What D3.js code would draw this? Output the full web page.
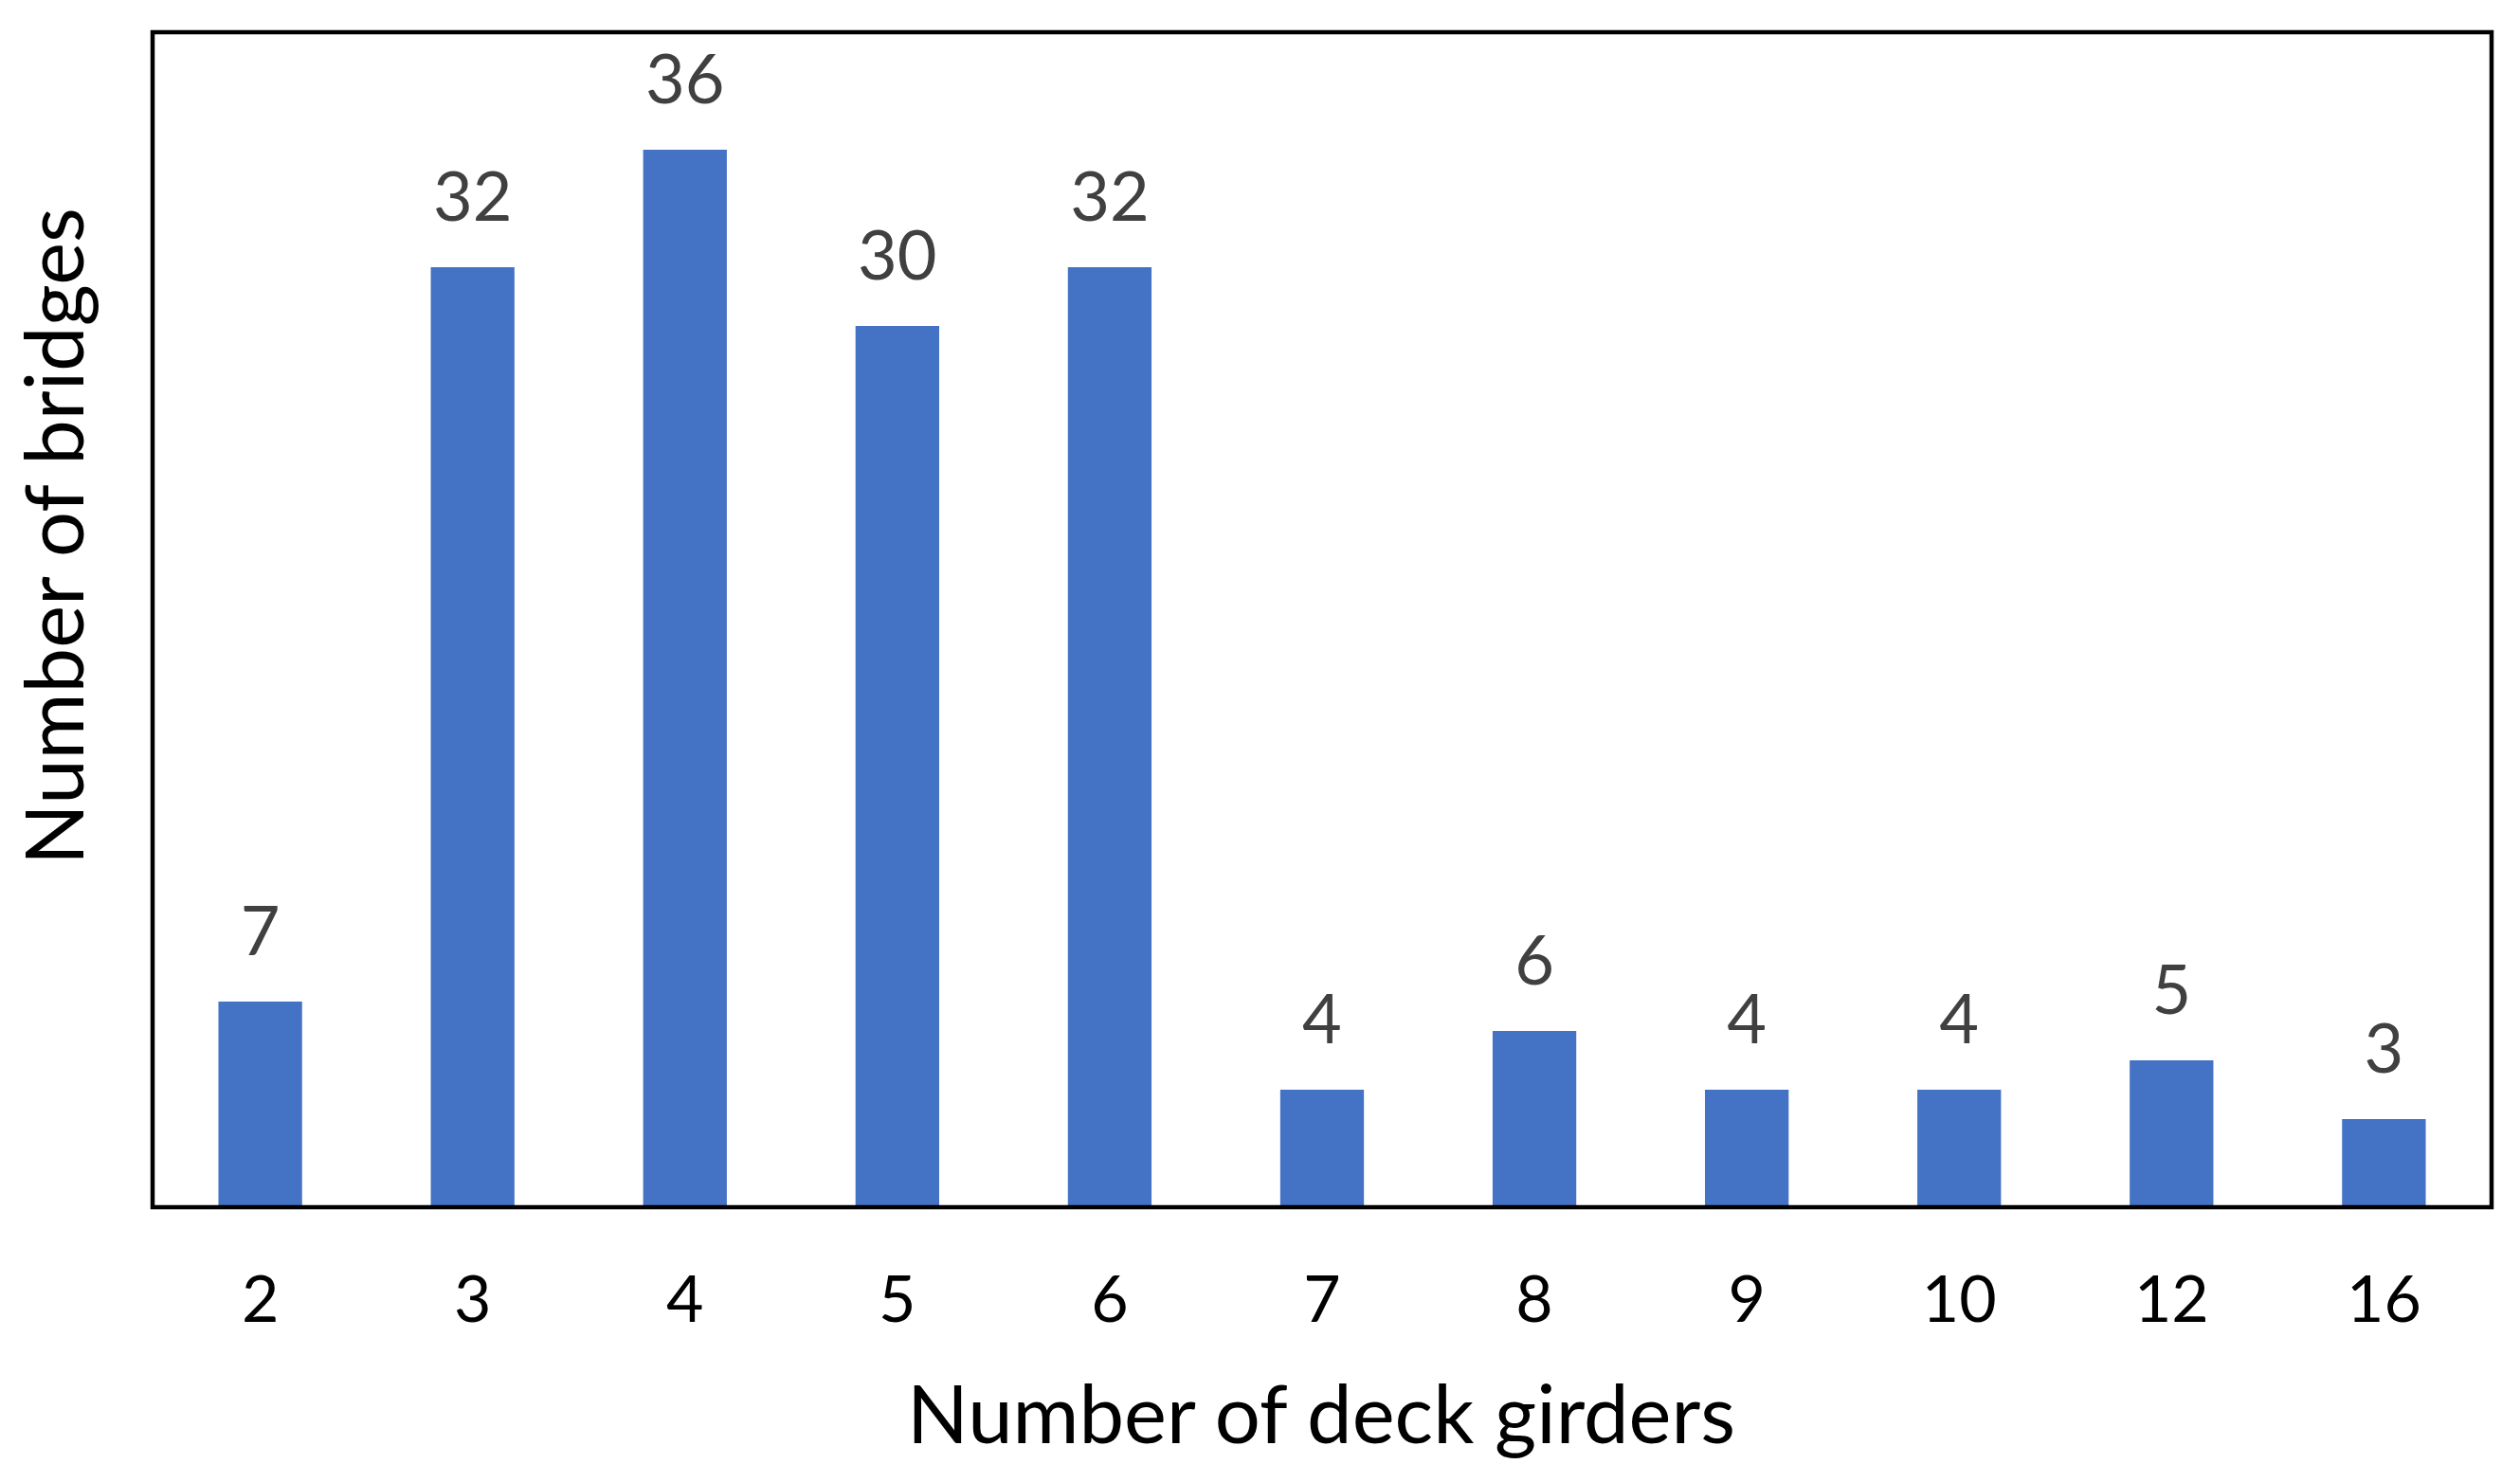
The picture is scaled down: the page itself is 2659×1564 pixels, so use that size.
<!DOCTYPE html>
<html>
<head>
<meta charset="utf-8">
<script src="https://cdn.jsdelivr.net/npm/d3@7"></script>
<style>
  body { margin: 0; background: #fff; }
  text { font-family: Lato, "Open Sans", sans-serif; }
</style>
</head>
<body>
<svg id="chart" width="2659" height="1564"></svg>
<script>
// Girder counts and how many bridges have each one.
var girders = ["2", "3", "4", "5", "6", "7", "8", "9", "10", "12", "16"];
var bridges = [7, 32, 36, 30, 32, 4, 6, 4, 4, 5, 3];
var yDomain = [0, 40];

var margin = { top: 34, right: 30, bottom: 290, left: 161 };

var svg = d3.select("#chart"),
    width = +svg.attr("width") - margin.left - margin.right,
    height = +svg.attr("height") - margin.top - margin.bottom;

var g = svg.append("g")
    .attr("transform", "translate(" + margin.left + "," + margin.top + ")");

var x = d3.scaleBand()
    .domain(girders)
    .range([0, width])
    .paddingInner(0.606)
    .paddingOuter(0.31);

var y = d3.scaleLinear()
    .domain(yDomain)
    .range([height, 0]);

var data = girders.map(function(d, i) { return { key: d, value: bridges[i] }; });

// Bars
g.selectAll("rect.bar")
  .data(data)
  .enter().append("rect")
    .attr("class", "bar")
    .attr("x", function(d) { return x(d.key); })
    .attr("y", function(d) { return y(d.value); })
    .attr("width", x.bandwidth())
    .attr("height", function(d) { return height - y(d.value); })
    .attr("fill", "#4472C4");

// Value labels above the bars
g.selectAll("text.value")
  .data(data)
  .enter().append("text")
    .attr("class", "value")
    .attr("x", function(d) { return x(d.key) + x.bandwidth() / 2; })
    .attr("y", function(d) { return y(d.value) - 49; })
    .attr("text-anchor", "middle")
    .attr("font-size", 72)
    .attr("fill", "#404040")
    .text(function(d) { return d.value; });

// X axis labels, no tick marks
var xAxis = g.append("g")
    .attr("transform", "translate(0," + height + ")")
    .call(d3.axisBottom(x).tickSize(0).tickPadding(0));
xAxis.select(".domain").remove();
xAxis.selectAll("text")
    .attr("y", 121)
    .attr("dy", 0)
    .attr("font-size", 68)
    .attr("fill", "#000");

// Frame around the plot area
g.append("rect")
    .attr("x", 0)
    .attr("y", 0)
    .attr("width", width)
    .attr("height", height)
    .attr("fill", "none")
    .attr("stroke", "#000")
    .attr("stroke-width", 4.5);

// Axis titles
svg.append("text")
    .attr("x", 1394)
    .attr("y", 1523)
    .attr("text-anchor", "middle")
    .attr("font-size", 85)
    .attr("fill", "#000")
    .text("Number of deck girders");

svg.append("text")
    .attr("transform", "translate(88,566) rotate(-90)")
    .attr("text-anchor", "middle")
    .attr("font-size", 85)
    .attr("fill", "#000")
    .text("Number of bridges");
</script>
</body>
</html>
